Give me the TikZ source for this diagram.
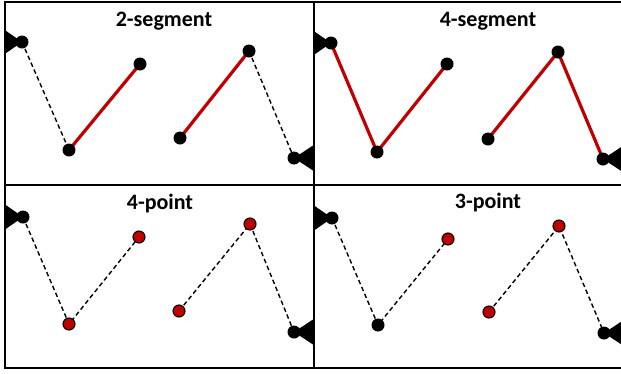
\documentclass[tikz,border=0pt]{standalone}
\usepackage{fontspec}
\setmainfont{Carlito}
\pgfdeclarelayer{bg}
\pgfsetlayers{bg,main}
\definecolor{dred}{HTML}{C00000}
\tikzset{
  blk/.style={circle,fill=black,minimum size=13pt,inner sep=0pt},
  rdot/.style={circle,fill=dred,draw=black,line width=1.1pt,minimum size=12pt,inner sep=0pt},
  seg/.style={draw=dred,line width=3.2pt},
  dsh/.style={draw=black,line width=1.4pt,dash pattern=on 4.5pt off 3pt},
  frame/.style={draw=black,line width=2pt},
  ttl/.style={font=\bfseries\fontsize{22}{24}\selectfont,inner sep=0pt},
  lwedge/.style={fill=black},
}
\begin{document}
\begin{tikzpicture}[x=1pt,y=-1pt]
\useasboundingbox (0,0) rectangle (621,373);
% frame
\coordinate (ftl) at (4.5,2);
\coordinate (ftr) at (622,2);
\coordinate (fbl) at (4.5,367.5);
\coordinate (fbr) at (622,367.5);
\coordinate (fml) at (4.5,185);
\coordinate (fmr) at (622,185);
\coordinate (fmt) at (313.5,2);
\coordinate (fmb) at (313.5,367.5);
\draw[frame] (ftr) -- (ftl) -- (fbl) -- (fbr);
\draw[frame] (fml) -- (fmr);
\draw[frame] (fmt) -- (fmb);

% titles
\node[ttl] (t1) at (164,21) {2-segment};
\node[ttl] (t2) at (488,21) {4-segment};
\node[ttl] (t3) at (160,204) {4-point};
\node[ttl] (t4) at (488,203) {3-point};

% ---------- panel A: 2-segment ----------
\node[blk] (a1) at (22,42) {};
\node[blk] (a2) at (69,150) {};
\node[blk] (a3) at (140,64) {};
\node[blk] (a4) at (180,138) {};
\node[blk] (a5) at (249,51) {};
\node[blk] (a6) at (294,158) {};
\begin{pgfonlayer}{bg}
\draw[dsh] (a1.center) -- (a2.center);
\draw[seg] (a2.center) -- (a3.center);
\draw[seg] (a4.center) -- (a5.center);
\draw[dsh] (a5.center) -- (a6.center);
\fill[lwedge] (a1.center) -- ++(-18,-12.5) -- ++(0,25) -- cycle;
\fill[lwedge] (a6.center) -- ++(19,-12.5) -- ++(0,25) -- cycle;
\end{pgfonlayer}

% ---------- panel B: 4-segment ----------
\node[blk] (b1) at (331,43) {};
\node[blk] (b2) at (377,152) {};
\node[blk] (b3) at (447,64) {};
\node[blk] (b4) at (488,139) {};
\node[blk] (b5) at (558,52) {};
\node[blk] (b6) at (603,159) {};
\begin{pgfonlayer}{bg}
\draw[seg] (b1.center) -- (b2.center) -- (b3.center);
\draw[seg] (b4.center) -- (b5.center) -- (b6.center);
\fill[lwedge] (b1.center) -- ++(-18,-12.5) -- ++(0,25) -- cycle;
\fill[lwedge] (b6.center) -- ++(19,-12.5) -- ++(0,25) -- cycle;
\end{pgfonlayer}

% ---------- panel C: 4-point ----------
\node[blk] (c1) at (23,217) {};
\node[rdot] (c2) at (69,324) {};
\node[rdot] (c3) at (139,237) {};
\node[rdot] (c4) at (179,311) {};
\node[rdot] (c5) at (250,224) {};
\node[blk] (c6) at (294,332) {};
\begin{pgfonlayer}{bg}
\draw[dsh] (c1.center) -- (c2.center) -- (c3.center);
\draw[dsh] (c4.center) -- (c5.center) -- (c6.center);
\fill[lwedge] (c1.center) -- ++(-18,-12.5) -- ++(0,25) -- cycle;
\fill[lwedge] (c6.center) -- ++(19,-12.5) -- ++(0,25) -- cycle;
\end{pgfonlayer}

% ---------- panel D: 3-point ----------
\node[blk] (d1) at (332,218) {};
\node[blk] (d2) at (378,325) {};
\node[rdot] (d3) at (448,239) {};
\node[rdot] (d4) at (489,312) {};
\node[rdot] (d5) at (559,226) {};
\node[blk] (d6) at (604,333) {};
\begin{pgfonlayer}{bg}
\draw[dsh] (d1.center) -- (d2.center) -- (d3.center);
\draw[dsh] (d4.center) -- (d5.center) -- (d6.center);
\fill[lwedge] (d1.center) -- ++(-18,-12.5) -- ++(0,25) -- cycle;
\fill[lwedge] (d6.center) -- ++(19,-12.5) -- ++(0,25) -- cycle;
\end{pgfonlayer}
\end{tikzpicture}
\end{document}
